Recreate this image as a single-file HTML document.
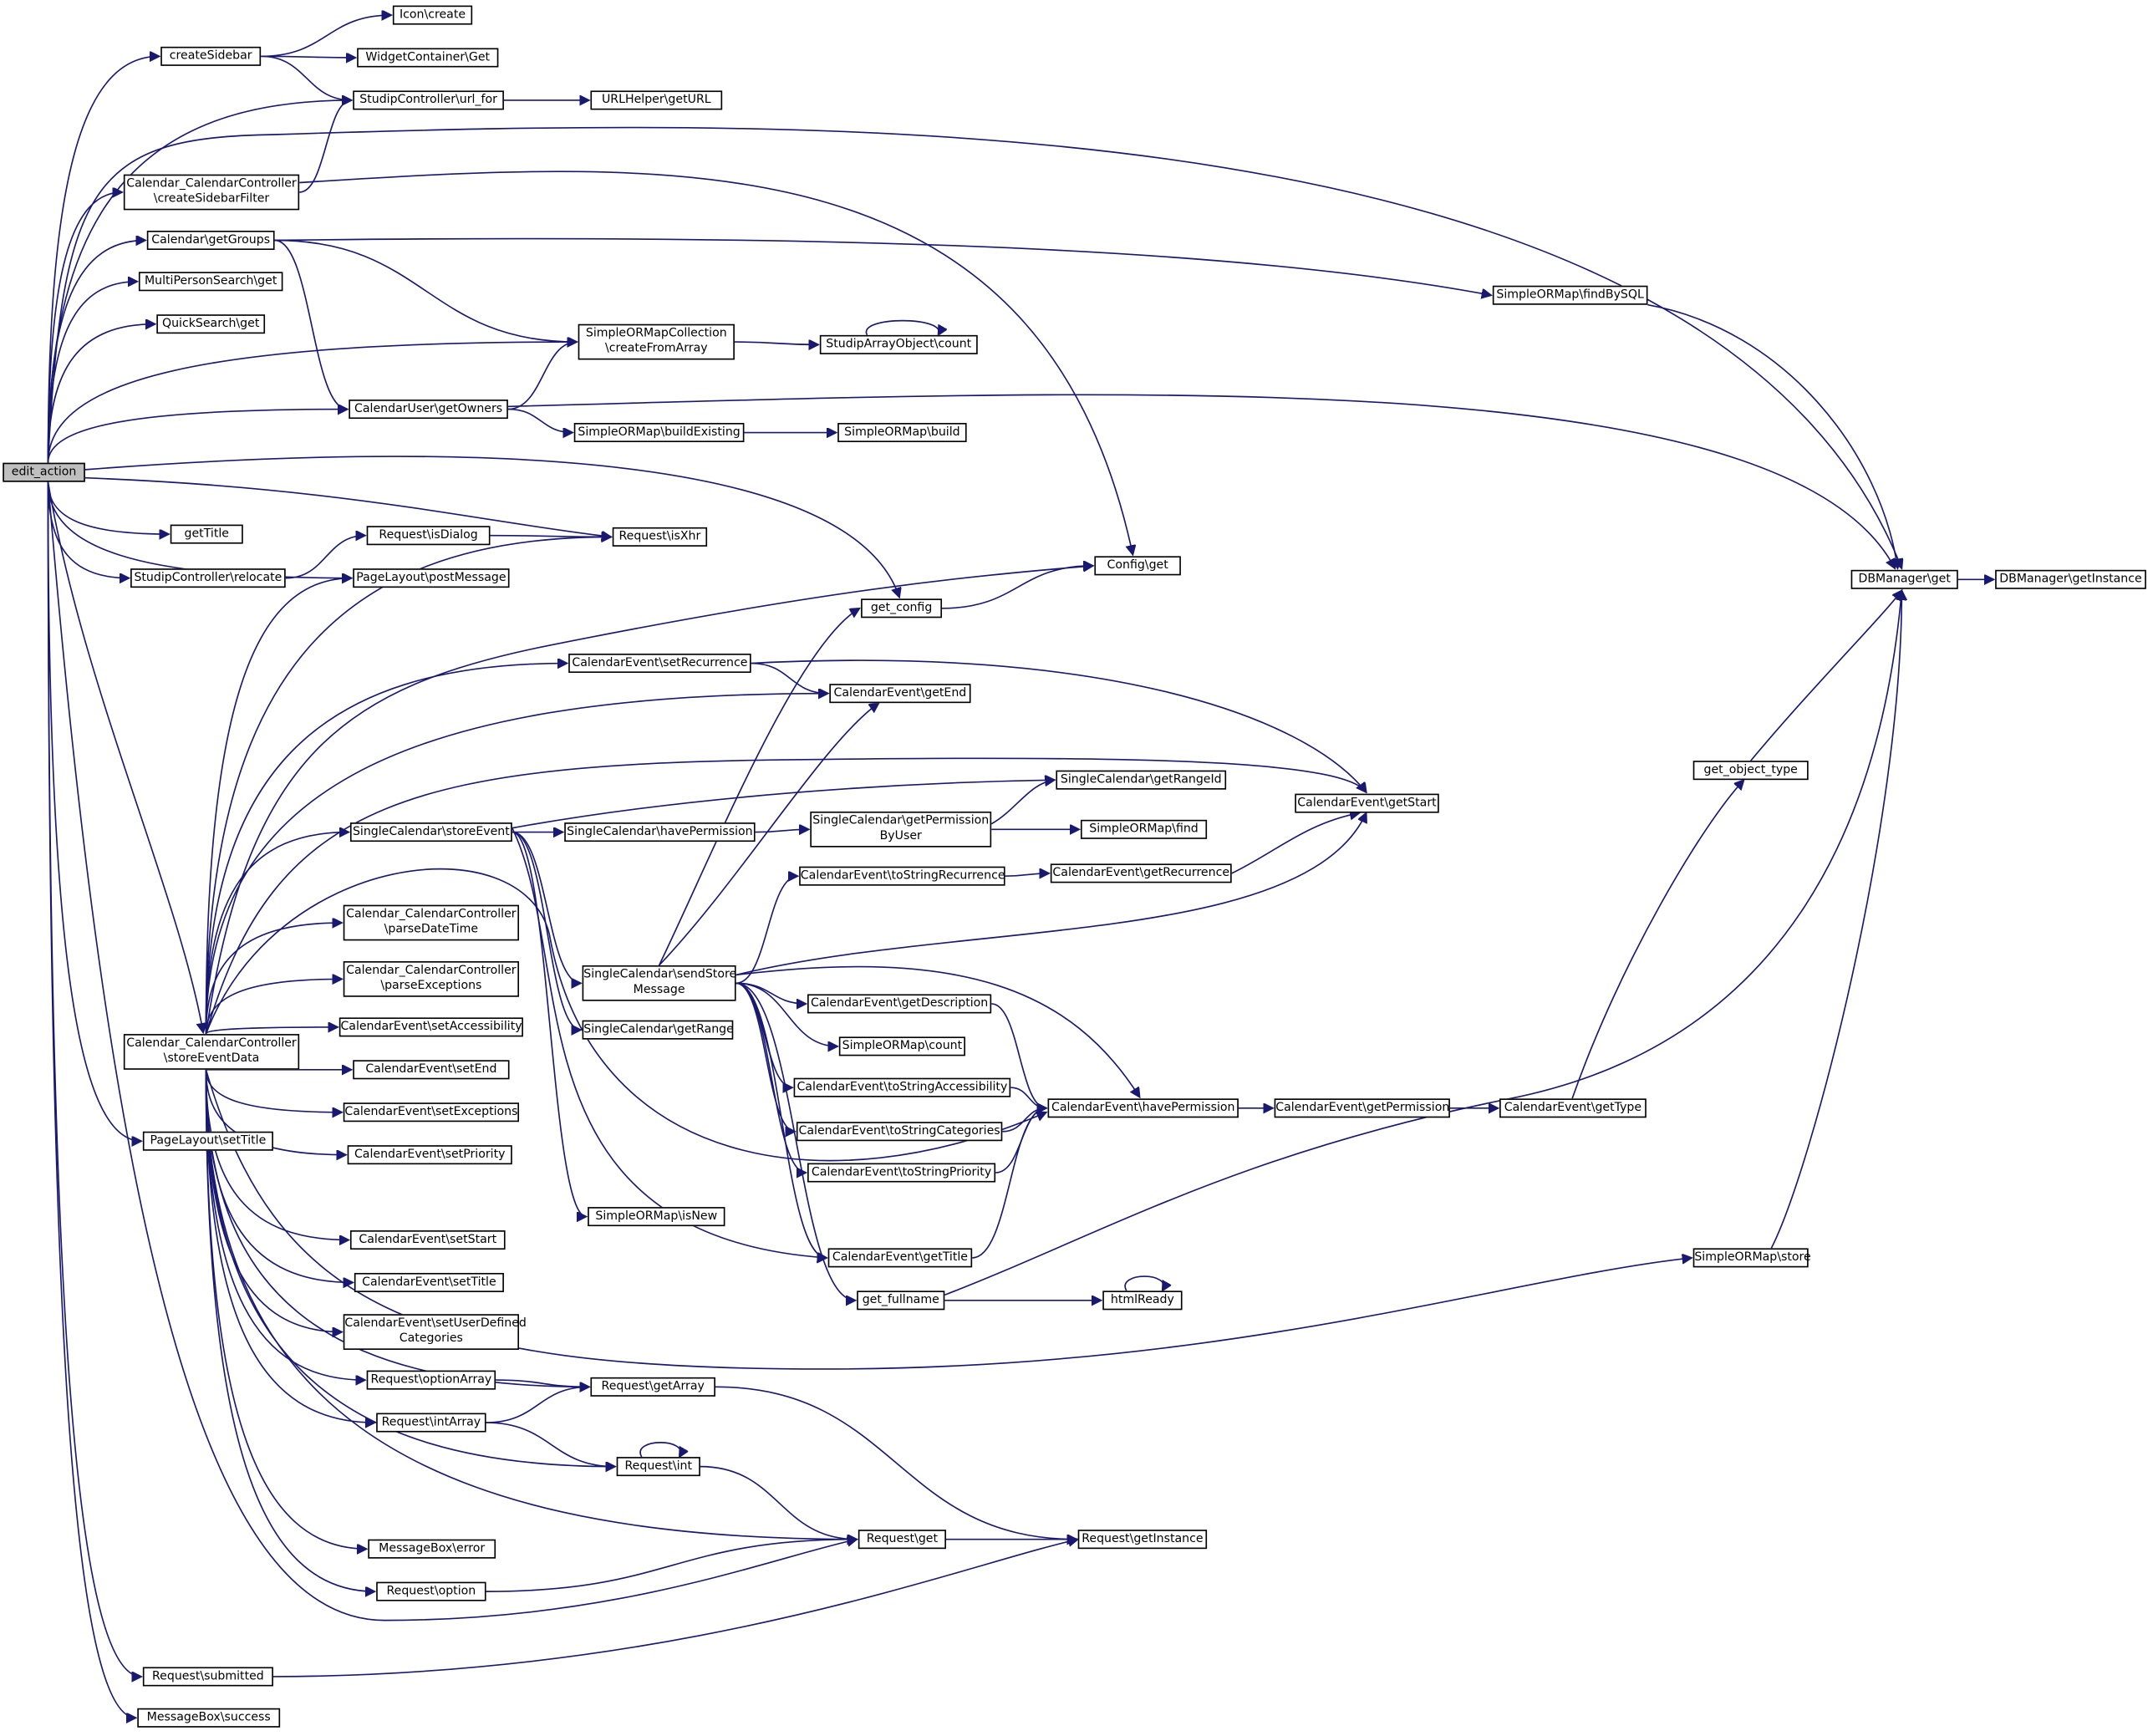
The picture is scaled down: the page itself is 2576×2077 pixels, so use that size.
<!DOCTYPE html>
<html><head><meta charset="utf-8">
<style>
html,body{margin:0;padding:0;background:#fff;width:2576px;height:2076px;overflow:hidden}
#wrap{position:absolute;left:0;top:0;width:1568px;height:1264px;transform:scale(1.6429);transform-origin:0 0}
#wrap div{position:absolute;box-sizing:border-box;border:1px solid #000;background:#fff;font-family:"DejaVu Sans","Liberation Sans",sans-serif;font-size:8.6px;line-height:11.5px;text-align:center;white-space:nowrap;color:#000;padding-top:0.5px}
#wrap svg{position:absolute;left:0;top:0}
</style></head><body>
<div id="wrap">
<svg id="edges" width="1568" height="1264" viewBox="0 0 1568 1264">
<defs><marker id="ah" markerWidth="8" markerHeight="8" refX="7" refY="3.5" orient="auto" markerUnits="userSpaceOnUse"><path d="M0,0 L7,3.5 L0,7 z" fill="#191970" stroke="#191970"/></marker></defs>
</svg>
<div id="edit" style="left:2px;top:337px;width:60px;height:14px;background:#bfbfbf">edit_action</div>
<div id="cs" style="left:117px;top:34px;width:73px;height:14px">createSidebar</div>
<div id="icon" style="left:286px;top:4px;width:58px;height:14px">Icon\create</div>
<div id="wc" style="left:260px;top:35px;width:103px;height:14px">WidgetContainer\Get</div>
<div id="urlfor" style="left:257px;top:66px;width:110px;height:14px">StudipController\url_for</div>
<div id="urlh" style="left:430px;top:66px;width:96px;height:14px">URLHelper\getURL</div>
<div id="csf" style="left:90px;top:127px;width:128px;height:26px">Calendar_CalendarController<br>\createSidebarFilter</div>
<div id="gg" style="left:107px;top:168px;width:93px;height:14px">Calendar\getGroups</div>
<div id="mps" style="left:101px;top:198px;width:105px;height:14px">MultiPersonSearch\get</div>
<div id="qs" style="left:114px;top:229px;width:79px;height:14px">QuickSearch\get</div>
<div id="cfa" style="left:421px;top:236px;width:114px;height:26px">SimpleORMapCollection<br>\createFromArray</div>
<div id="sac" style="left:597px;top:244px;width:115px;height:14px">StudipArrayObject\count</div>
<div id="fbs" style="left:1087px;top:208px;width:113px;height:14px">SimpleORMap\findBySQL</div>
<div id="go" style="left:254px;top:291px;width:116px;height:14px">CalendarUser\getOwners</div>
<div id="be" style="left:418px;top:308px;width:124px;height:14px">SimpleORMap\buildExisting</div>
<div id="build" style="left:610px;top:308px;width:94px;height:14px">SimpleORMap\build</div>
<div id="gt" style="left:124px;top:382px;width:53px;height:14px">getTitle</div>
<div id="isd" style="left:267px;top:383px;width:90px;height:14px">Request\isDialog</div>
<div id="isx" style="left:446px;top:384px;width:69px;height:14px">Request\isXhr</div>
<div id="rel" style="left:95px;top:414px;width:113px;height:14px">StudipController\relocate</div>
<div id="pm" style="left:257px;top:414px;width:114px;height:14px">PageLayout\postMessage</div>
<div id="cfg" style="left:797px;top:405px;width:63px;height:14px">Config\get</div>
<div id="gcfg" style="left:627px;top:436px;width:59px;height:14px">get_config</div>
<div id="dbg" style="left:1348px;top:415px;width:78px;height:14px">DBManager\get</div>
<div id="dbi" style="left:1453px;top:415px;width:110px;height:14px">DBManager\getInstance</div>
<div id="srec" style="left:414px;top:476px;width:133px;height:14px">CalendarEvent\setRecurrence</div>
<div id="gend" style="left:604px;top:498px;width:103px;height:14px">CalendarEvent\getEnd</div>
<div id="gri" style="left:769px;top:561px;width:124px;height:14px">SingleCalendar\getRangeId</div>
<div id="gstart" style="left:943px;top:578px;width:105px;height:14px">CalendarEvent\getStart</div>
<div id="got" style="left:1233px;top:554px;width:84px;height:14px">get_object_type</div>
<div id="se" style="left:255px;top:599px;width:118px;height:14px">SingleCalendar\storeEvent</div>
<div id="shp" style="left:411px;top:599px;width:139px;height:14px">SingleCalendar\havePermission</div>
<div id="gpbu" style="left:590px;top:591px;width:132px;height:26px">SingleCalendar\getPermission<br>ByUser</div>
<div id="find" style="left:787px;top:597px;width:92px;height:14px">SimpleORMap\find</div>
<div id="tsr" style="left:582px;top:631px;width:150px;height:14px">CalendarEvent\toStringRecurrence</div>
<div id="grec" style="left:765px;top:629px;width:132px;height:14px">CalendarEvent\getRecurrence</div>
<div id="pdt" style="left:250px;top:659px;width:128px;height:26px">Calendar_CalendarController<br>\parseDateTime</div>
<div id="pex" style="left:250px;top:700px;width:128px;height:26px">Calendar_CalendarController<br>\parseExceptions</div>
<div id="ssm" style="left:424px;top:703px;width:112px;height:26px">SingleCalendar\sendStore<br>Message</div>
<div id="gdesc" style="left:588px;top:724px;width:134px;height:14px">CalendarEvent\getDescription</div>
<div id="sacc" style="left:247px;top:741px;width:134px;height:14px">CalendarEvent\setAccessibility</div>
<div id="grange" style="left:424px;top:743px;width:110px;height:14px">SingleCalendar\getRange</div>
<div id="socount" style="left:611px;top:755px;width:92px;height:14px">SimpleORMap\count</div>
<div id="sed" style="left:90px;top:753px;width:128px;height:26px">Calendar_CalendarController<br>\storeEventData</div>
<div id="send" style="left:257px;top:772px;width:114px;height:14px">CalendarEvent\setEnd</div>
<div id="tsa" style="left:578px;top:785px;width:158px;height:14px">CalendarEvent\toStringAccessibility</div>
<div id="chp" style="left:763px;top:800px;width:139px;height:14px">CalendarEvent\havePermission</div>
<div id="gperm" style="left:928px;top:800px;width:128px;height:14px">CalendarEvent\getPermission</div>
<div id="gtype" style="left:1092px;top:800px;width:107px;height:14px">CalendarEvent\getType</div>
<div id="sex" style="left:250px;top:803px;width:128px;height:14px">CalendarEvent\setExceptions</div>
<div id="tsc" style="left:580px;top:817px;width:150px;height:14px">CalendarEvent\toStringCategories</div>
<div id="plst" style="left:104px;top:824px;width:95px;height:14px">PageLayout\setTitle</div>
<div id="spri" style="left:253px;top:834px;width:120px;height:14px">CalendarEvent\setPriority</div>
<div id="tsp" style="left:588px;top:847px;width:137px;height:14px">CalendarEvent\toStringPriority</div>
<div id="isnew" style="left:428px;top:879px;width:100px;height:14px">SimpleORMap\isNew</div>
<div id="sst" style="left:255px;top:896px;width:113px;height:14px">CalendarEvent\setStart</div>
<div id="cgt" style="left:603px;top:909px;width:105px;height:14px">CalendarEvent\getTitle</div>
<div id="store" style="left:1233px;top:909px;width:84px;height:14px">SimpleORMap\store</div>
<div id="stitle" style="left:258px;top:927px;width:109px;height:14px">CalendarEvent\setTitle</div>
<div id="sudc" style="left:250px;top:957px;width:128px;height:26px">CalendarEvent\setUserDefined<br>Categories</div>
<div id="gfn" style="left:624px;top:940px;width:64px;height:14px">get_fullname</div>
<div id="hr" style="left:803px;top:940px;width:58px;height:14px">htmlReady</div>
<div id="oa" style="left:267px;top:998px;width:94px;height:14px">Request\optionArray</div>
<div id="ga" style="left:430px;top:1003px;width:91px;height:14px">Request\getArray</div>
<div id="ia" style="left:274px;top:1029px;width:80px;height:14px">Request\intArray</div>
<div id="rint" style="left:449px;top:1061px;width:61px;height:14px">Request\int</div>
<div id="rget" style="left:625px;top:1114px;width:64px;height:14px">Request\get</div>
<div id="rgi" style="left:785px;top:1114px;width:94px;height:14px">Request\getInstance</div>
<div id="mbe" style="left:268px;top:1121px;width:93px;height:14px">MessageBox\error</div>
<div id="ropt" style="left:274px;top:1152px;width:80px;height:14px">Request\option</div>
<div id="sub" style="left:104px;top:1214px;width:95px;height:14px">Request\submitted</div>
<div id="mbs" style="left:100px;top:1244px;width:104px;height:14px">MessageBox\success</div>
</div>
<script>
(function(){
var svg=document.getElementById('edges');
function R(id){var e=document.getElementById(id);return{x:e.offsetLeft,y:e.offsetTop,w:e.offsetWidth,h:e.offsetHeight};}
function add(d){var p=document.createElementNS('http://www.w3.org/2000/svg','path');p.setAttribute('d',d);p.setAttribute('fill','none');p.setAttribute('stroke','#191970');p.setAttribute('stroke-width','1');p.setAttribute('marker-end','url(#ah)');svg.appendChild(p);}
var O={
'edit>dbg':'M35 337 C45 130 70 100 200 98 C600 85 1250 70 1385 414',
'csf>cfg':'M218 133 C500 115 760 100 825 404',
'go>dbg':'M370 296 C800 285 1300 260 1380 414',
'fbs>dbg':'M1200 222 C1300 240 1370 330 1382 414',
'edit>isx':'M62 348 C250 355 350 380 445 391',
'edit>gcfg':'M62 342 C350 320 620 330 655 435',
'edit>rget':'M35 351 C80 900 150 1180 280 1180 C450 1180 560 1135 624 1121',
'gfn>dbg':'M688 943 C800 900 900 840 1100 800 C1300 760 1370 600 1385 430',
'sed>store':'M150 779 C200 950 300 997 600 997 C900 997 1100 930 1232 916',
'got>dbg':'M1275 554 C1320 500 1370 450 1385 430',
'store>dbg':'M1290 909 C1320 850 1385 600 1385 430',
'sed>chp':'M150 753 C200 620 380 600 400 680 C430 850 600 880 762 810',
'edit>sed':'M35 351 C60 500 130 650 148 752',
'sed>gstart':'M150 753 C200 580 300 555 600 553 C850 550 980 555 995 577',
'srec>gstart':'M547 483 C800 470 950 520 995 577',
'se>gri':'M373 603 C500 580 650 570 768 568',
'ssm>gstart':'M536 710 C700 670 950 690 995 592',
'sed>cfg':'M150 753 C180 550 250 500 400 470 C600 430 700 420 796 412',
'ssm>chp':'M536 710 C700 690 780 720 830 799',
'se>cgt':'M373 603 C420 700 370 900 602 916',
'gtype>got':'M1145 800 C1180 700 1240 600 1270 568',
'sub>rgi':'M199 1221 C500 1220 700 1140 785 1121',
'gg>fbs':'M200 175 C600 170 900 180 1086 215',
'ssm>gcfg':'M480 703 C520 620 580 470 626 443',
'ssm>gend':'M480 703 C540 640 600 540 640 512',
'gpbu>gri':'M722 600 C740 590 750 570 768 568',
'grec>gstart':'M897 636 C930 620 950 600 990 592'
};
function e(a,b){var k=a+'>'+b;if(O[k]){add(O[k]);return;}
 var s=R(a),t=R(b);
 if(a===b){var x1=s.x+s.w*0.3,x2=s.x+s.w*0.75,y=s.y;add('M'+x1+' '+y+' C'+(x1-8)+' '+(y-14)+' '+(x2+8)+' '+(y-14)+' '+x2+' '+y);return;}
 var tx=t.x,ty=t.y+t.h/2;
 if(a==='edit'||a==='sed'){var sx=(a==='edit')?35:150;var sy=ty<s.y?s.y:s.y+s.h;if(Math.abs(ty-(s.y+s.h/2))<12){sx=s.x+s.w;sy=s.y+s.h/2;add('M'+sx+' '+sy+' C'+((sx+tx)/2)+' '+sy+' '+((sx+tx)/2)+' '+ty+' '+(tx-1)+' '+ty);return;}
  add('M'+sx+' '+sy+' C'+sx+' '+(sy+(ty-sy)*0.7)+' '+(sx+(tx-sx)*0.3)+' '+ty+' '+(tx-1)+' '+ty);return;}
 var sx=s.x+s.w,sy=s.y+s.h/2;
 if(tx<sx-5){sx=s.x+s.w*0.5;sy=ty<s.y?s.y:s.y+s.h;add('M'+sx+' '+sy+' C'+sx+' '+ty+' '+(sx+(tx-sx)*0.5)+' '+ty+' '+(tx-1)+' '+ty);return;}
 var m=(sx+tx)/2;add('M'+sx+' '+sy+' C'+m+' '+sy+' '+m+' '+ty+' '+(tx-1)+' '+ty);}
var E=[['edit','cs'],['edit','urlfor'],['edit','dbg'],['edit','csf'],['edit','gg'],['edit','mps'],['edit','qs'],['edit','cfa'],['edit','go'],['edit','isx'],['edit','gcfg'],['edit','gt'],['edit','rel'],['edit','pm'],['edit','sed'],['edit','plst'],['edit','rget'],['edit','sub'],['edit','mbs'],
['cs','icon'],['cs','wc'],['cs','urlfor'],['urlfor','urlh'],['csf','urlfor'],['csf','cfg'],['gg','fbs'],['gg','cfa'],['gg','go'],['fbs','dbg'],['cfa','sac'],['sac','sac'],['go','cfa'],['go','dbg'],['go','be'],['be','build'],['rel','isd'],['isd','isx'],['gcfg','cfg'],['dbg','dbi'],
['sed','pm'],['sed','isx'],['sed','cfg'],['sed','srec'],['sed','gend'],['sed','gstart'],['sed','se'],['sed','pdt'],['sed','pex'],['sed','sacc'],['sed','send'],['sed','sex'],['sed','spri'],['sed','sst'],['sed','stitle'],['sed','sudc'],['sed','oa'],['sed','ia'],['sed','rint'],['sed','rget'],['sed','ga'],['sed','mbe'],['sed','ropt'],['sed','chp'],['sed','store'],
['srec','gend'],['srec','gstart'],['se','gri'],['se','shp'],['se','ssm'],['se','grange'],['se','isnew'],['se','cgt'],['shp','gpbu'],['gpbu','gri'],['gpbu','find'],
['ssm','gcfg'],['ssm','gend'],['ssm','tsr'],['ssm','gstart'],['ssm','gdesc'],['ssm','socount'],['ssm','tsa'],['ssm','tsc'],['ssm','tsp'],['ssm','cgt'],['ssm','gfn'],['ssm','chp'],
['tsr','grec'],['grec','gstart'],['gdesc','chp'],['tsa','chp'],['tsc','chp'],['tsp','chp'],['cgt','chp'],['chp','gperm'],['gperm','gtype'],['gtype','got'],['got','dbg'],['store','dbg'],['gfn','dbg'],['gfn','hr'],['hr','hr'],
['oa','ga'],['ia','ga'],['ia','rint'],['rint','rint'],['rint','rget'],['ga','rgi'],['rget','rgi'],['ropt','rget'],['sub','rgi']];
E.forEach(function(p){e(p[0],p[1]);});
})();
</script>
</body></html>
